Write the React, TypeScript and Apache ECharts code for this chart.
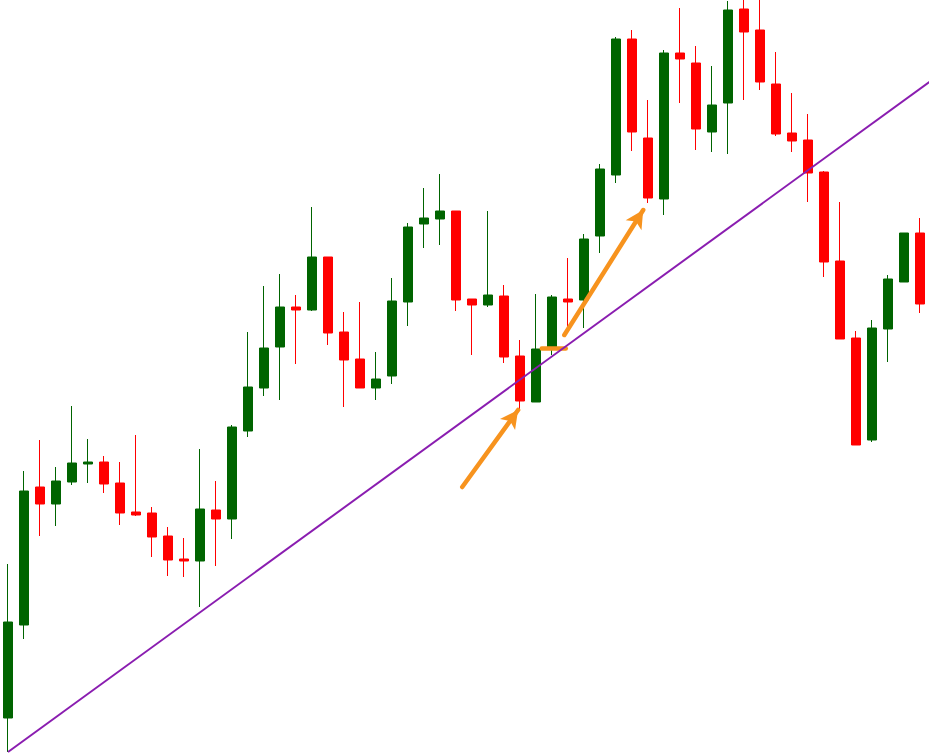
import React, { useEffect, useRef } from "react";
import * as echarts from "echarts";

// Candles: [open, close, low, high] in price units
const candles: number[][] = [
  [37, 133, 3, 191],
  [130, 264, 116, 284],
  [268, 251, 219, 315],
  [251, 274, 229, 288],
  [273, 292, 270, 349],
  [291, 293, 272, 316],
  [293, 271, 262, 299],
  [272, 242, 230, 293],
  [243, 240, 239, 320],
  [242, 218, 198, 248],
  [219, 195, 179, 228],
  [196, 194, 178, 217],
  [194, 246, 148, 306],
  [245, 236, 189, 274],
  [236, 328, 216, 330],
  [324, 368, 318, 423],
  [367, 407, 359, 469],
  [408, 448, 355, 481],
  [448, 445, 391, 460],
  [445, 498, 444, 548],
  [498, 422, 410, 498],
  [423, 395, 348, 443],
  [396, 367, 367, 453],
  [367, 376, 355, 403],
  [379, 454, 371, 477],
  [453, 528, 429, 532],
  [531, 537, 507, 567],
  [536, 544, 510, 581],
  [544, 455, 444, 544],
  [456, 450, 400, 456],
  [450, 460, 448, 544],
  [459, 398, 392, 470],
  [399, 354, 344, 415],
  [353, 406, 353, 461],
  [408, 458, 400, 460],
  [456, 453, 422, 497],
  [455, 516, 427, 521],
  [519, 586, 502, 591],
  [580, 716, 572, 718],
  [716, 623, 604, 725],
  [617, 557, 552, 655],
  [556, 702, 540, 705],
  [702, 696, 652, 747],
  [692, 626, 605, 709],
  [623, 650, 603, 689],
  [652, 745, 601, 754],
  [746, 723, 655, 762],
  [725, 673, 665, 762],
  [671, 621, 619, 703],
  [622, 614, 603, 662],
  [615, 582, 553, 641],
  [583, 493, 478, 584],
  [494, 416, 416, 553],
  [417, 310, 310, 424],
  [315, 427, 313, 435],
  [426, 476, 393, 480],
  [473, 522, 473, 522],
  [522, 451, 442, 537],
];

const categories: string[] = candles.map((_, i) => String(i + 1));

// Trendline: [barIndex, price]
const trendline: number[][] = [
  [0, 3],
  [57.75, 675],
];

// Orange annotations: [from, to] as [barIndex, price]
const arrows: number[][][] = [
  [
    [28.39, 268],
    [31.88, 345],
  ],
  [
    [34.77, 420],
    [39.7, 545],
  ],
];
const support: number[][] = [
  [33.36, 407],
  [34.86, 407],
];

const GREEN = "#006400";
const RED = "#ff0000";
const ORANGE = "#f7931e";
const PURPLE = "#8a1db0";

export default function App() {
  const ref = useRef<HTMLDivElement>(null);
  useEffect(() => {
    if (!ref.current) return;
    const chart = echarts.init(ref.current, undefined, { renderer: "svg" });
    const markData: any[] = arrows.map((a) => [
      { coord: a[0], symbol: "none" },
      { coord: a[1], symbol: "arrow", symbolSize: [14, 18] },
    ]);
    markData.push([
      { coord: support[0], symbol: "none" },
      { coord: support[1], symbol: "none" },
    ]);
    chart.setOption({
      animation: false,
      backgroundColor: "#ffffff",
      grid: { left: 0, top: 0, width: 928, height: 755 },
      xAxis: [
        { type: "category", data: categories, show: false, boundaryGap: true },
        { type: "value", min: -0.5, max: 57.5, show: false },
      ],
      yAxis: { type: "value", min: 0, max: 755, show: false },
      series: [
        {
          type: "candlestick",
          xAxisIndex: 0,
          data: candles,
          barWidth: 10,
          clip: false,
          itemStyle: {
            color: GREEN,
            color0: RED,
            borderColor: GREEN,
            borderColor0: RED,
            borderWidth: 1,
          },
          emphasis: { disabled: true },
          silent: true,
        },
        {
          type: "line",
          xAxisIndex: 1,
          data: trendline,
          showSymbol: false,
          symbol: "none",
          clip: false,
          silent: true,
          z: 5,
          lineStyle: { color: PURPLE, width: 2 },
          markLine: {
            silent: true,
            animation: false,
            label: { show: false },
            emphasis: { disabled: true },
            lineStyle: { color: ORANGE, width: 4.5, type: "solid", cap: "round" },
            data: markData,
          },
        },
      ],
    });
    return () => chart.dispose();
  }, []);
  return (
    <div
      ref={ref}
      style={{ position: "fixed", left: 0, top: 0, width: 931, height: 755, background: "#fff" }}
    />
  );
}
